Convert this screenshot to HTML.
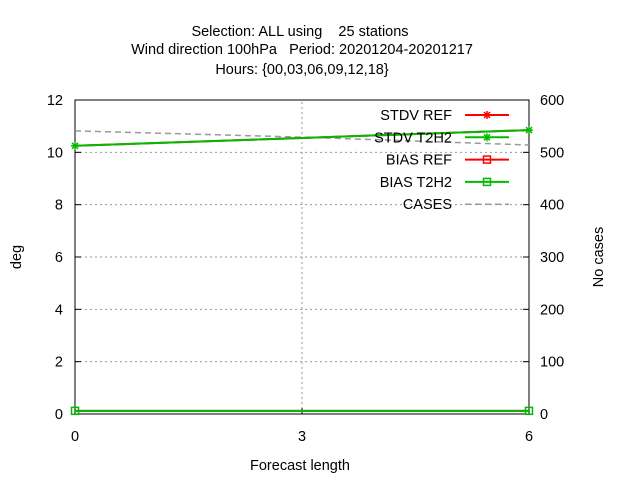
<!DOCTYPE html>
<html><head><meta charset="utf-8"><style>
body{margin:0;background:#fff}
svg text{font-family:"Liberation Sans",sans-serif;font-size:14.5px;fill:#000;white-space:pre}
</style></head><body>
<svg width="640" height="480" xmlns="http://www.w3.org/2000/svg" xml:space="preserve">
<g text-anchor="middle">
<text x="300" y="36">Selection: ALL using    25 stations</text>
<text x="302" y="54">Wind direction 100hPa   Period: 20201204-20201217</text>
<text x="302" y="74">Hours: {00,03,06,09,12,18}</text>
</g>
<g id="grid"></g>
<rect x="75" y="100" width="454" height="314" fill="none" stroke="#000"/>
<g id="axes"></g>
<text x="300" y="470" text-anchor="middle">Forecast length</text>
<text transform="translate(21,257) rotate(-90)" text-anchor="middle">deg</text>
<text transform="translate(603,257) rotate(-90)" text-anchor="middle">No cases</text>
<g id="series"></g>
<g id="legend"></g>
</svg>
<script>
const xVals=[0,3,6];
const stdvRef=[10.25,10.55,10.85];
const stdvT2H2=[10.25,10.55,10.85];
const biasRef=[0.12,0.12,0.12];
const biasT2H2=[0.12,0.12,0.12];
const cases=[541,529,514];
const yTicks=[0,2,4,6,8,10,12];
const y2Ticks=[0,100,200,300,400,500,600];
const xTicks=[0,3,6];
const NS="http://www.w3.org/2000/svg";
const X0=75,X1=529,Y0=414,Y1=100;
const sx=v=>X0+(v-0)/6*(X1-X0);
const sy=v=>Y0-v/12*(Y0-Y1);
const sy2=v=>Y0-v/600*(Y0-Y1);
function mk(t,a,p){const e=document.createElementNS(NS,t);for(const k in a)e.setAttribute(k,a[k]);p.appendChild(e);return e;}
const grid=document.getElementById('grid'),axes=document.getElementById('axes'),ser=document.getElementById('series'),leg=document.getElementById('legend');
yTicks.forEach(t=>{const y=sy(t);
 if(t>0&&t<12){const g=mk('line',{x1:X0,x2:X1,y1:y,y2:y,stroke:'#999','stroke-dasharray':'2,3'},grid);}
 mk('line',{x1:X0,x2:X0+6,y1:y,y2:y,stroke:'#000'},axes);
 const tx=mk('text',{x:X0-12,y:y+5,'text-anchor':'end'},axes);tx.textContent=t;
 });
y2Ticks.forEach(t=>{const y=sy2(t);
 mk('line',{x1:X1-6,x2:X1,y1:y,y2:y,stroke:'#000'},axes);
 const tx=mk('text',{x:X1+11,y:y+5},axes);tx.textContent=t;
 });
xTicks.forEach(t=>{const x=sx(t);
 if(t>0&&t<6){const g=mk('line',{x1:x,x2:x,y1:Y0,y2:Y1,stroke:'#999','stroke-dasharray':'2,3'},grid);}
 mk('line',{x1:x,x2:x,y1:Y0,y2:Y0-6,stroke:'#000'},axes);
 const tx=mk('text',{x:x,y:Y0+27,'text-anchor':'middle'},axes);tx.textContent=t;
 });
function line(vals,f,color,name,dash){
 const pts=vals.map((v,i)=>sx(xVals[i])+','+f(v)).join(' ');
 const p=mk('polyline',{points:pts,fill:'none',stroke:color,'stroke-width':dash?1.5:2,'stroke-dasharray':dash||'none'},ser);
 }
function star(x,y,c,p){['M-4,0h8','M0,-4v8','M-3,-3l6,6','M-3,3l6,-6'].forEach(d=>mk('path',{d:d,transform:`translate(${x},${y})`,stroke:c,'stroke-width':1.5},p));}
function sq(x,y,c,p){mk('rect',{x:x-3.5,y:y-3.5,width:7,height:7,fill:'none',stroke:c,'stroke-width':1.5},p);}
line(cases,sy2,'#999','cases-line','6,4');
line(stdvRef,sy,'#f00','stdv-ref-line');
line(biasRef,sy,'#f00','bias-ref-line');
line(stdvT2H2,sy,'#0b0','stdv-t2h2-line');
line(biasT2H2,sy,'#0b0','bias-t2h2-line');
xVals.forEach((x,i)=>{if(i===1)return;
 star(sx(x),sy(stdvT2H2[i]),'#0b0',ser);sq(sx(x),sy(biasT2H2[i]),'#0b0',ser);});
const L=[['STDV REF','#f00','star'],['STDV T2H2','#0b0','star'],['BIAS REF','#f00','sq'],['BIAS T2H2','#0b0','sq'],['CASES','#999','dash']];
L.forEach((l,i)=>{const y=115+i*22.3;
 const g=mk('g',{},leg);
 const t=mk('text',{x:452,y:y+5,'text-anchor':'end'},g);t.textContent=l[0];
 mk('line',{x1:465,x2:509,y1:y,y2:y,stroke:l[1],'stroke-width':l[2]==='dash'?1.5:2,'stroke-dasharray':l[2]==='dash'?'6,4':'none'},g);
 if(l[2]==='star')star(487,y,l[1],g);if(l[2]==='sq')sq(487,y,l[1],g);});
</script>
</body></html>
